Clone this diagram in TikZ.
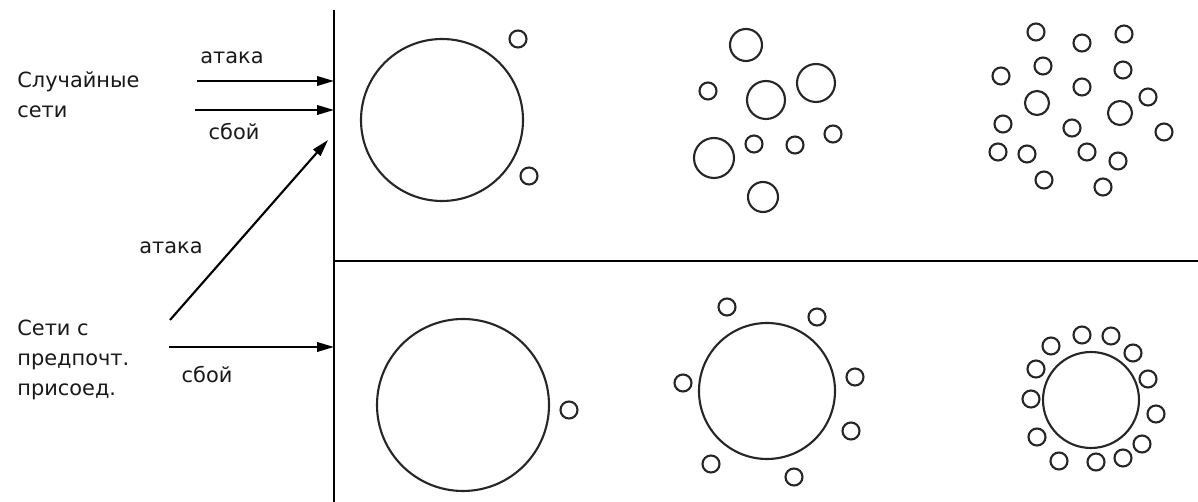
\documentclass[tikz,border=0pt]{standalone}
\usepackage{fontspec}
\setmainfont{DejaVu Sans}
\usetikzlibrary{arrows.meta}

\begin{document}
\begin{tikzpicture}[
  x=0.02cm, y=-0.02cm,
  every node/.style={font=\fontsize{11.9}{17}\selectfont, inner sep=0pt, text=black!90},
  frame/.style={draw=black, line width=1.2pt},
  net/.style={draw=black!85, line width=1.2pt},
  feed/.style={draw=black, line width=1.2pt, -{Triangle[length=3.4mm,width=1.9mm]}}
]
\useasboundingbox[fill=white] (0,0) rectangle (1198,502);
% frame
\coordinate (ftop) at (334,10);
\coordinate (fbot) at (334,502);
\coordinate (fmid) at (334,261);
\coordinate (fright) at (1198,261);
\draw[frame] (ftop)--(fbot) (fmid)--(fright);

% network kinds
\node[align=left, anchor=west] (rnd) at (17,95) {Случайные\\сети};
\node[align=left, anchor=west] (pa) at (17,360) {Сети с\\предпочт.\\присоед.};

% attack / failure arrows
\coordinate (ra0) at (197,81);  \coordinate (ra1) at (334,81);
\coordinate (rf0) at (195,110); \coordinate (rf1) at (334,110);
\coordinate (pa0) at (170,320); \coordinate (pa1) at (328,140);
\coordinate (pf0) at (169,347); \coordinate (pf1) at (334,347);
\draw[feed] (ra0)--(ra1);
\draw[feed] (rf0)--(rf1);
\draw[feed] (pa0)--(pa1);
\draw[feed] (pf0)--(pf1);
\node (ral) at (232,58) {атака};
\node (rfl) at (234,132) {сбой};
\node (pal) at (171,248) {атака};
\node (pfl) at (207,375) {сбой};

% random: one piece, breaking up, dust
\draw[net] (442,120) circle (81) (518,39) circle (8.5) (529,176) circle (8.5);
\draw[net] (746,45) circle (16) (766,100) circle (19) (816,83) circle (19)
           (714,158) circle (20) (763,197) circle (15)
           (708,91) circle (8.5) (754,144) circle (8.5) (795,145) circle (8.5)
           (833,134) circle (8.5);
\draw[net] (1036,32) circle (8.5) (1082,43) circle (8.5) (1124,34) circle (8.5)
           (1001,76) circle (8.5) (1043,66) circle (8.5) (1123,70) circle (8.5)
           (1082,87) circle (8.5) (1148,97) circle (8.5) (1037,103) circle (12)
           (1120,113) circle (12) (1003,124) circle (8.5) (1072,128) circle (8.5)
           (1164,132) circle (8.5) (998,152) circle (8.5) (1027,154) circle (8.5)
           (1087,152) circle (8.5) (1118,161) circle (8.5) (1044,180) circle (8.5)
           (1103,187) circle (8.5);

% preferential attachment: core keeps shrinking
\draw[net] (463,405) circle (86) (569,410) circle (8.5);
\draw[net] (767,391) circle (68)
           (727,307) circle (8.5) (817,317) circle (8.5) (683,383) circle (8.5)
           (855,377) circle (8.5) (851,431) circle (8.5) (711,464) circle (8.5)
           (794,477) circle (8.5);
\draw[net] (1091,400) circle (48)
           (1051,346) circle (8.5) (1082,335) circle (8.5) (1111,336) circle (8.5)
           (1133,353) circle (8.5) (1148,379) circle (8.5) (1156,414) circle (8.5)
           (1142,444) circle (8.5) (1123,458) circle (8.5) (1096,462) circle (8.5)
           (1059,461) circle (8.5) (1037,437) circle (8.5) (1031,399) circle (8.5)
           (1036,369) circle (8.5);
\end{tikzpicture}
\end{document}
